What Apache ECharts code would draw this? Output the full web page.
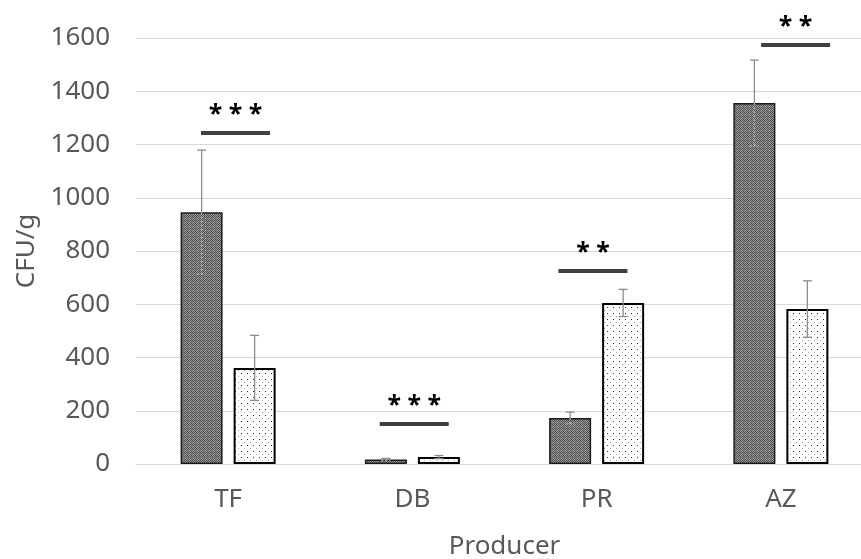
<!DOCTYPE html>
<html>
<head>
<meta charset="utf-8">
<script src="https://cdn.jsdelivr.net/npm/echarts@6/dist/echarts.min.js"></script>
<style>
  html, body { margin: 0; padding: 0; background: #fff; }
  #main { width: 861px; height: 559px; }
</style>
</head>
<body>
<div id="main"></div>
<script>
// data
var categories = ['TF', 'DB', 'PR', 'AZ'];
var darkValues = [946, 17, 173, 1356];
var darkErr = [233, 4, 22, 161];
var lightValues = [361, 26, 605, 582];
var lightErr = [122, 6, 51, 106];
var sigLabels = ['***', '***', '**', '**'];
var sigLevels = [1243, 150, 725, 1574];
var yTicks = [0, 200, 400, 600, 800, 1000, 1200, 1400, 1600];

var BAR_W = 42;
var GAP = 11;
var sigShift = [0.04, 0.01, -0.02, 0.08]; // shift of the bracket, in category widths

function makePattern(kind) {
  var c = document.createElement('canvas');
  var ctx = c.getContext('2d');
  if (kind === 'dark') {
    c.width = 4; c.height = 4;
    ctx.fillStyle = '#949494';
    ctx.fillRect(0, 0, 4, 4);
    ctx.fillStyle = '#505050';
    for (var i = 0; i < 4; i++) {
      for (var j = 0; j < 4; j++) {
        if ((i + j) % 2 === 0) ctx.fillRect(i, j, 1, 1);
      }
    }
    ctx.fillStyle = '#c0c0c0';
    ctx.fillRect(1, 2, 1, 1);
  } else {
    c.width = 6; c.height = 6;
    ctx.fillStyle = '#ffffff';
    ctx.fillRect(0, 0, 6, 6);
    ctx.fillStyle = '#333333';
    ctx.fillRect(1, 1, 1, 1);
    ctx.fillStyle = '#aaaaaa';
    ctx.fillRect(4, 4, 1, 1);
  }
  return { image: c, repeat: 'repeat' };
}

function errData(values, errs) {
  return values.map(function (v, i) { return [i, v, errs[i]]; });
}

function errRender(side, dashedInside) {
  return function (params, api) {
    var idx = api.value(0);
    var v = api.value(1);
    var e = api.value(2);
    var mid = api.coord([idx, v]);
    var top = api.coord([idx, v + e]);
    var bot = api.coord([idx, Math.max(v - e, 0)]);
    var x = mid[0] + side * (BAR_W + GAP) / 2;
    var col = '#8c8c8c';
    var inner = dashedInside ? '#b0b0b0' : col;
    var dash = dashedInside ? [2, 2] : null;
    return {
      type: 'group',
      children: [
        { type: 'line', shape: { x1: x, y1: top[1], x2: x, y2: mid[1] }, style: { stroke: col, lineWidth: 1.3 } },
        { type: 'line', shape: { x1: x - 4.5, y1: top[1], x2: x + 4.5, y2: top[1] }, style: { stroke: col, lineWidth: 1.3 } },
        { type: 'line', shape: { x1: x, y1: mid[1], x2: x, y2: bot[1] }, style: { stroke: inner, lineWidth: 1.3, lineDash: dash } },
        { type: 'line', shape: { x1: x - 4.5, y1: bot[1], x2: x + 4.5, y2: bot[1] }, style: { stroke: inner, lineWidth: 1.3, lineDash: dash } }
      ]
    };
  };
}

var chart = echarts.init(document.getElementById('main'), null, { renderer: 'canvas' });

var option = {
  animation: false,
  textStyle: { fontFamily: 'Noto Sans' },
  grid: { left: 136, width: 737, top: 38, height: 426, outerBoundsMode: 'none', containLabel: false },
  xAxis: {
    type: 'category',
    data: categories,
    name: 'Producer',
    nameLocation: 'middle',
    nameGap: 70,
    nameTextStyle: { color: '#595959', fontSize: 26 },
    axisLine: { lineStyle: { color: '#d9d9d9', width: 1 } },
    axisTick: { show: false },
    axisLabel: { color: '#595959', fontSize: 26, margin: 23 }
  },
  yAxis: {
    type: 'value',
    min: yTicks[0],
    max: yTicks[yTicks.length - 1],
    interval: 200,
    name: 'CFU/g',
    nameLocation: 'middle',
    nameGap: 96,
    nameTextStyle: { color: '#595959', fontSize: 26 },
    axisLine: { show: false },
    axisTick: { show: false },
    axisLabel: { color: '#595959', fontSize: 26, margin: 26, formatter: function (v) { return String(v); } },
    splitLine: { lineStyle: { color: '#d9d9d9', width: 1 } }
  },
  series: [
    {
      type: 'bar',
      data: darkValues,
      barWidth: BAR_W,
      barGap: (GAP / BAR_W * 100) + '%',
      itemStyle: { color: makePattern('dark'), borderColor: '#1a1a1a', borderWidth: 1.5 }
    },
    {
      type: 'bar',
      data: lightValues,
      barWidth: BAR_W,
      itemStyle: { color: makePattern('light'), borderColor: '#000000', borderWidth: 2 }
    },
    {
      type: 'custom',
      data: errData(darkValues, darkErr),
      encode: { x: 0, y: 1 },
      renderItem: errRender(-1, true),
      z: 5
    },
    {
      type: 'custom',
      data: errData(lightValues, lightErr),
      encode: { x: 0, y: 1 },
      renderItem: errRender(1, false),
      z: 5
    },
    {
      type: 'custom',
      data: sigLevels.map(function (v, i) { return [i, v]; }),
      encode: { x: 0, y: 1 },
      z: 6,
      renderItem: function (params, api) {
        var idx = api.value(0);
        var p = api.coord([idx, api.value(1)]);
        var bw = api.size([1, 0])[0];
        var cx = p[0] + sigShift[idx] * bw;
        return {
          type: 'group',
          children: [
            { type: 'line', shape: { x1: cx - 34.5, y1: p[1], x2: cx + 34.5, y2: p[1] }, style: { stroke: '#404040', lineWidth: 4 } },
            { type: 'text', style: { text: sigLabels[idx].split('').join(' '), x: cx, y: p[1] - 6, align: 'center', verticalAlign: 'bottom', fill: '#000', font: 'bold 25px "Noto Sans"' } }
          ]
        };
      }
    }
  ]
};

chart.setOption(option);
</script>
</body>
</html>
